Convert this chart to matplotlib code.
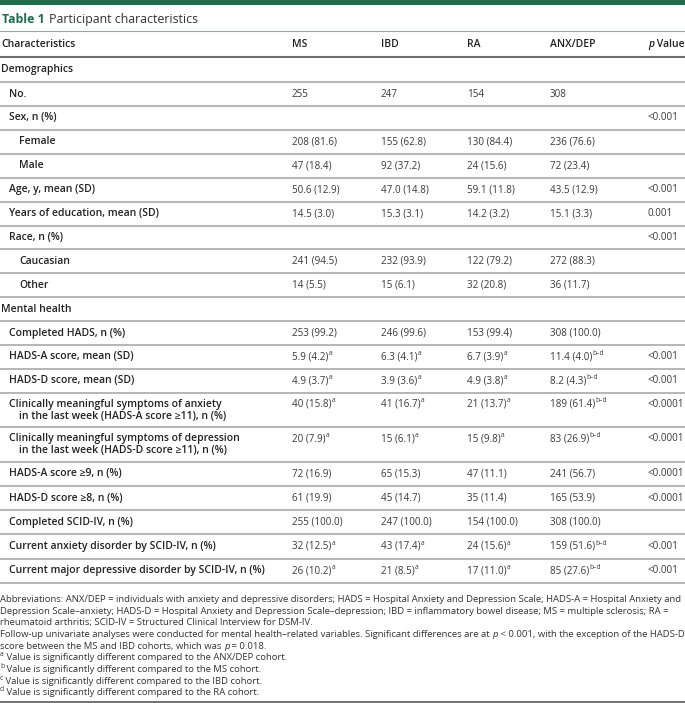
import matplotlib
matplotlib.use('Agg')
import matplotlib.pyplot as plt

plt.rcParams['font.family'] = ['Open Sans', 'DejaVu Sans']

# table content
columns = ['MS', 'IBD', 'RA', 'ANX/DEP']
labels = [
    'Demographics', 'No.', 'Sex, n (%)', 'Female', 'Male', 'Age, y, mean (SD)',
    'Years of education, mean (SD)', 'Race, n (%)', 'Caucasian', 'Other',
    'Mental health', 'Completed HADS, n (%)', 'HADS-A score, mean (SD)',
    'HADS-D score, mean (SD)',
    'Clinically meaningful symptoms of anxiety\nin the last week (HADS-A score ≥11), n (%)',
    'Clinically meaningful symptoms of depression\nin the last week (HADS-D score ≥11), n (%)',
    'HADS-A score ≥9, n (%)', 'HADS-D score ≥8, n (%)', 'Completed SCID-IV, n (%)',
    'Current anxiety disorder by SCID-IV, n (%)',
    'Current major depressive disorder by SCID-IV, n (%)',
]
indent = [0, 1, 1, 2, 2, 1, 1, 1, 2, 2, 0, 1, 1, 1, 1, 1, 1, 1, 1, 1, 1]
ms_vals = ['', '255', '', '208 (81.6)', '47 (18.4)', '50.6 (12.9)', '14.5 (3.0)', '',
           '241 (94.5)', '14 (5.5)', '', '253 (99.2)', '5.9 (4.2)^a', '4.9 (3.7)^a',
           '40 (15.8)^a', '20 (7.9)^a', '72 (16.9)', '61 (19.9)', '255 (100.0)',
           '32 (12.5)^a', '26 (10.2)^a']
ibd_vals = ['', '247', '', '155 (62.8)', '92 (37.2)', '47.0 (14.8)', '15.3 (3.1)', '',
            '232 (93.9)', '15 (6.1)', '', '246 (99.6)', '6.3 (4.1)^a', '3.9 (3.6)^a',
            '41 (16.7)^a', '15 (6.1)^a', '65 (15.3)', '45 (14.7)', '247 (100.0)',
            '43 (17.4)^a', '21 (8.5)^a']
ra_vals = ['', '154', '', '130 (84.4)', '24 (15.6)', '59.1 (11.8)', '14.2 (3.2)', '',
           '122 (79.2)', '32 (20.8)', '', '153 (99.4)', '6.7 (3.9)^a', '4.9 (3.8)^a',
           '21 (13.7)^a', '15 (9.8)^a', '47 (11.1)', '35 (11.4)', '154 (100.0)',
           '24 (15.6)^a', '17 (11.0)^a']
anx_vals = ['', '308', '', '236 (76.6)', '72 (23.4)', '43.5 (12.9)', '15.1 (3.3)', '',
            '272 (88.3)', '36 (11.7)', '', '308 (100.0)', '11.4 (4.0)^b–d', '8.2 (4.3)^b–d',
            '189 (61.4)^b–d', '83 (26.9)^b–d', '241 (56.7)', '165 (53.9)', '308 (100.0)',
            '159 (51.6)^b–d', '85 (27.6)^b–d']
p_vals = ['', '', '<0.001', '', '', '<0.001', '0.001', '<0.001', '', '', '', '',
          '<0.001', '<0.001', '<0.0001', '<0.0001', '<0.0001', '<0.0001', '',
          '<0.001', '<0.001']

footnotes = [
    [('Abbreviations: ANX/DEP = individuals with anxiety and depressive disorders; HADS = Hospital Anxiety and Depression Scale; HADS-A = Hospital Anxiety and', 'n')],
    [('Depression Scale–anxiety; HADS-D = Hospital Anxiety and Depression Scale–depression; IBD = inflammatory bowel disease; MS = multiple sclerosis; RA =', 'n')],
    [('rheumatoid arthritis; SCID-IV = Structured Clinical Interview for DSM-IV.', 'n')],
    [('Follow-up univariate analyses were conducted for mental health–related variables. Significant differences are at ', 'n'), ('p', 'i'),
     (' < 0.001, with the exception of the HADS-D', 'n')],
    [('score between the MS and IBD cohorts, which was ', 'n'), ('p', 'i'), (' = 0.018.', 'n')],
    [('a', 's'), (' Value is significantly different compared to the ANX/DEP cohort.', 'n')],
    [('b', 's'), (' Value is significantly different compared to the MS cohort.', 'n')],
    [('c', 's'), (' Value is significantly different compared to the IBD cohort.', 'n')],
    [('d', 's'), (' Value is significantly different compared to the RA cohort.', 'n')],
]

W, H = 685, 703
GREEN = '#1f6b4d'
LABEL_C = '#222222'
VAL_C = '#3a3a3a'
FS_LAB = 7.5     # row labels, pt
FS_VAL = 7.1
FS_FOOT = 6.83
FS_SUP = 4.8

fig = plt.figure(figsize=(W / 100, H / 100), dpi=100)
ax = fig.add_axes([0, 0, 1, 1])
ax.set_xlim(0, W)
ax.set_ylim(H, 0)
ax.axis('off')
rend = fig.canvas.get_renderer()


def right_edge(t):
    bb = t.get_window_extent(rend)
    return ax.transData.inverted().transform((bb.x1, bb.y0))[0]


def put_val(x, y, s, size=FS_VAL, color=VAL_C):
    main, _, sup = s.partition('^')
    t = ax.text(x, y, main, fontsize=size, color=color, va='center', ha='left')
    if sup:
        ax.text(right_edge(t) + 0.3, y - 3.4, sup, fontsize=FS_SUP, color=color,
                va='center', ha='left')


def put_segments(x, y, segs, size, color):
    for txt, st in segs:
        if st == 's':
            t = ax.text(x, y - 3, txt, fontsize=FS_SUP, color=color, va='center')
        else:
            t = ax.text(x, y, txt, fontsize=size, color=color, va='center',
                        style='italic' if st == 'i' else 'normal')
        x = right_edge(t)


# top bar and title
ax.axhspan(0, 4.5, color=GREEN, lw=0)
t = ax.text(2, 19.5, 'Table 1', fontsize=8.9, weight='bold', color=GREEN, va='center')
ax.text(right_edge(t) + 4, 19.5, 'Participant characteristics', fontsize=8.9,
        color='#333333', va='center')
ax.plot([0, W], [31, 31], color='#9aa59f', lw=0.8)

# header
col_x = [292, 381, 467, 550]
p_x = 648
hy = 44.5
ax.text(1, hy, 'Characteristics', fontsize=FS_LAB, weight='semibold', color=LABEL_C, va='center')
for cx, name in zip(col_x, columns):
    ax.text(cx, hy, name, fontsize=FS_LAB, weight='semibold', color=LABEL_C, va='center')
t = ax.text(p_x, hy, 'p', fontsize=FS_LAB, weight='semibold', style='italic', color=LABEL_C, va='center')
ax.text(right_edge(t), hy, ' Value', fontsize=FS_LAB, weight='semibold', color=LABEL_C, va='center')
ax.plot([0, W], [56.8, 56.8], color='#707070', lw=1.5)

# rows
indent_x = [1, 9.5, 19.5]
y = 56.8
for i, lab in enumerate(labels):
    double = '\n' in lab
    if i == 0:
        h = 25.3
    elif double:
        h = 34.5
    elif i < 14:
        h = 23.9
    else:
        h = 24.2
    cy = y + h / 2
    lines = lab.split('\n')
    ys = [cy - 6, cy + 6] if double else [cy]
    for k, (ln, ly) in enumerate(zip(lines, ys)):
        xx = indent_x[indent[i]] + (10 if k > 0 else 0)
        ax.text(xx, ly, ln, fontsize=FS_LAB, weight='semibold', color=LABEL_C, va='center')
    vy = ys[0]
    for cx, col in zip(col_x, [ms_vals, ibd_vals, ra_vals, anx_vals]):
        if col[i]:
            put_val(cx, vy, col[i])
    if p_vals[i]:
        put_val(p_x, vy, p_vals[i])
    y += h
    ax.plot([0, W], [y, y], color='#a9a9a9', lw=1.2)

# footnotes
fy = y + 17
for segs in footnotes:
    put_segments(0, fy, segs, FS_FOOT, '#333333')
    fy += 11.6

ax.plot([0, W], [701.5, 701.5], color='#4a4a4a', lw=1.1)

fig.savefig('out.png', dpi=100)
